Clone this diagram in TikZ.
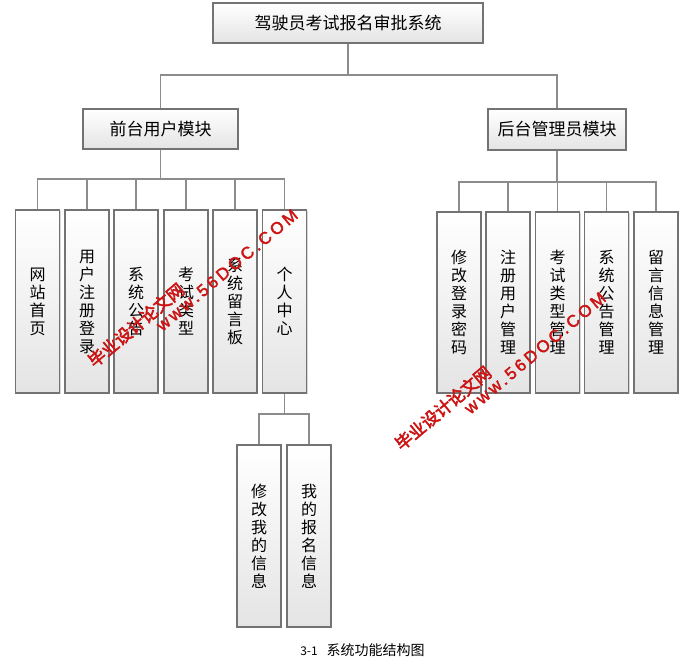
\documentclass[tikz,border=0pt]{standalone}
\usepackage{fontspec}
\newfontfamily\cjk{Noto Sans CJK SC}
\newfontfamily\wmcjk[FakeBold=3]{Noto Sans CJK SC}
\newfontfamily\wmlat[LetterSpace=18,FakeBold=2]{Liberation Sans}
\usetikzlibrary{shadows}
\definecolor{bordergray}{HTML}{737373}
\definecolor{linegray}{HTML}{8C8C8C}
\definecolor{boxbottom}{HTML}{E4E4E4}
\definecolor{wmred}{HTML}{CC1414}
\tikzset{
  basebox/.style={draw=bordergray, line width=1.2pt, top color=white, bottom color=boxbottom,
    drop shadow={shadow xshift=1.3pt, shadow yshift=-1.3pt, opacity=0.3}, inner sep=0pt},
  headbox/.style={basebox, font=\cjk\fontsize{17}{18}\selectfont},
  leafbox/.style={basebox, minimum width=44pt, text width=16pt, align=center,
    font=\cjk\fontsize{16}{18}\selectfont},
  conn/.style={draw=linegray, line width=1.4pt},
  wmtext/.style={text=wmred, rotate=40, inner sep=0pt}
}
\begin{document}
\begin{tikzpicture}[x=1pt, y=-1pt]
\fill[white] (0,0) rectangle (691,664);
\useasboundingbox (0,0) rectangle (691,664);

% top and module boxes
\node[headbox, minimum width=270pt, minimum height=40pt] (top) at (348,23) {驾驶员考试报名审批系统};
\node[headbox, minimum width=155pt, minimum height=40pt] (lm) at (160.5,129) {前台用户模块};
\node[headbox, minimum width=138pt, minimum height=41pt] (rm) at (557,129.5) {后台管理员模块};

% left leaves
\node[leafbox, minimum height=183pt] (l1) at (37.5,301.5) {网\\站\\首\\页};
\node[leafbox, minimum height=183pt] (l2) at (87,301.5) {用\\户\\注\\册\\登\\录};
\node[leafbox, minimum height=183pt] (l3) at (136,301.5) {系\\统\\公\\告};
\node[leafbox, minimum height=183pt] (l4) at (186,301.5) {考\\试\\类\\型};
\node[leafbox, minimum height=183pt] (l5) at (235,301.5) {系\\统\\留\\言\\板};
\node[leafbox, minimum height=183pt] (l6) at (284.5,301.5) {个\\人\\中\\心};

% right leaves
\node[leafbox, minimum height=181pt] (r1) at (459,302.5) {修\\改\\登\\录\\密\\码};
\node[leafbox, minimum height=181pt] (r2) at (508,302.5) {注\\册\\用\\户\\管\\理};
\node[leafbox, minimum height=181pt] (r3) at (557.5,302.5) {考\\试\\类\\型\\管\\理};
\node[leafbox, minimum height=181pt] (r4) at (606.5,302.5) {系\\统\\公\\告\\管\\理};
\node[leafbox, minimum height=181pt] (r5) at (656,302.5) {留\\言\\信\\息\\管\\理};

% personal centre children
\node[leafbox, minimum height=182pt] (p1) at (259,536) {修\\改\\我\\的\\信\\息};
\node[leafbox, minimum height=182pt] (p2) at (309,536) {我\\的\\报\\名\\信\\息};

% connectors
\coordinate (j0) at (348,75);
\draw[conn] (top.south) -- (j0);
\draw[conn] (j0) -| (lm.north);
\draw[conn] (j0) -| (rm.north);

\coordinate (j1) at (160.5,179);
\draw[conn] (lm.south) -- (j1);
\foreach \n in {l1,l2,l3,l4,l5,l6} \draw[conn] (j1) -| (\n.north);

\coordinate (j2) at (557,182);
\draw[conn] (rm.south) -- (j2);
\foreach \n in {r1,r2,r3,r4,r5} \draw[conn] (j2) -| (\n.north);

\coordinate (j3) at (284.5,414);
\draw[conn] (l6.south) -- (j3);
\draw[conn] (j3) -| (p1.north);
\draw[conn] (j3) -| (p2.north);

% caption
\node[font=\cjk\fontsize{14}{16}\selectfont, inner sep=0pt] (cap) at (362.5,650)
  {{\fontsize{12}{14}\selectfont 3-1}\hspace{9pt}系统功能结构图};

% watermarks
\node[wmtext, font=\wmcjk\fontsize{17}{18}\selectfont] (wa1) at (136,325) {毕业设计论文网};
\node[wmtext, font=\wmlat\fontsize{17}{18}\selectfont] (wb1) at (227,270) {www.56DOC.COM};
\node[wmtext, font=\wmcjk\fontsize{17}{18}\selectfont] (wa2) at (443,408) {毕业设计论文网};
\node[wmtext, font=\wmlat\fontsize{17}{18}\selectfont] (wb2) at (535,353) {www.56DOC.COM};
\end{tikzpicture}
\end{document}
